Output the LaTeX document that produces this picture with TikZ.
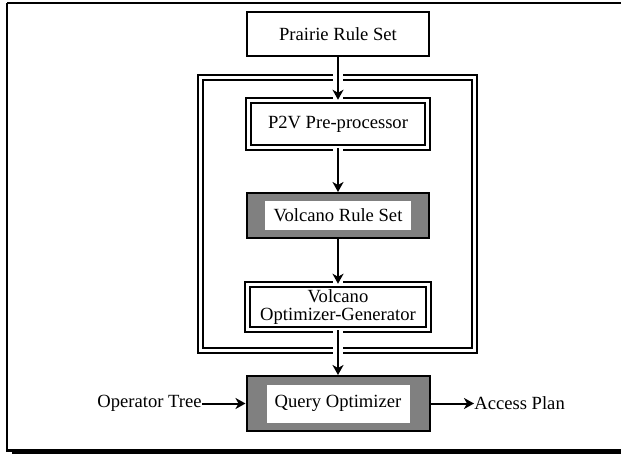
\documentclass[tikz,border=0pt]{standalone}
\usepackage{fontspec}
\setmainfont{Liberation Serif}
\usetikzlibrary{arrows.meta}

\begin{document}
\begin{tikzpicture}[x=0.5pt, y=-0.5pt, font=\fontsize{9.3}{10.5}\selectfont,
    plain/.style = {draw, line width=0.8pt, minimum width=91pt, minimum height=22pt, inner sep=0pt},
    twin/.style = {draw, line width=0.75pt, double=white, double distance=1.6pt, inner sep=0pt},
    shaded/.style = {draw, line width=1pt, fill=black!50, inner sep=0pt},
    label/.style = {fill=white, inner sep=0pt},
    flow/.style = {-{Stealth[length=5pt, width=5.5pt, inset=1.5pt]}, line width=1pt,
                   preaction={draw=white, line width=5pt, -}}]
	\useasboundingbox (0,0) rectangle (621,454);
	\clip (0,0) rectangle (621,454);
	\draw[line width=1pt] (7,3) -- (640,3);
	\draw[line width=1pt] (7,3) -- (7,450);
	\fill (6,448.5) rectangle (640,451.5);
	\fill (12,451) rectangle (640,454);
	\node[twin, minimum width=137pt, minimum height=136.5pt] (core) at (337.5,214) {};
	\node[plain] (prairie) at (338,34) {Prairie Rule Set};
	\node[twin, minimum width=89.5pt, minimum height=23.5pt] (p2v) at (338,124) {P2V Pre-processor};
	\node[shaded, minimum width=91pt, minimum height=22.5pt] (vrs) at (338,215.5) {};
	\node[label, minimum width=73pt, minimum height=14.5pt] (vrstext) at (vrs) {Volcano Rule Set};
	\node[twin, minimum width=90.5pt, minimum height=22.5pt, align=center] (vog) at (338,307)
		{Volcano\\[-1.5pt]Optimizer-Generator};
	\node[shaded, minimum width=91.5pt, minimum height=27.5pt] (qo) at (338,403.5) {};
	\node[label, minimum width=71.5pt, minimum height=19pt] (qotext) at (qo) {Query Optimizer};
	\node[anchor=east, inner sep=0pt] (tree) at (202,403.5) {Operator Tree};
	\node[anchor=west, inner sep=0pt] (plan) at (474,403.5) {Access Plan};
	\draw[flow] (prairie) -- (p2v);
	\draw[flow] (p2v) -- (vrs);
	\draw[flow] (vrs) -- (vog);
	\draw[flow] (vog) -- (qo);
	\draw[flow, preaction={draw=none}] (tree) -- (qo);
	\draw[flow, preaction={draw=none}] (qo) -- (plan);
\end{tikzpicture}
\end{document}
